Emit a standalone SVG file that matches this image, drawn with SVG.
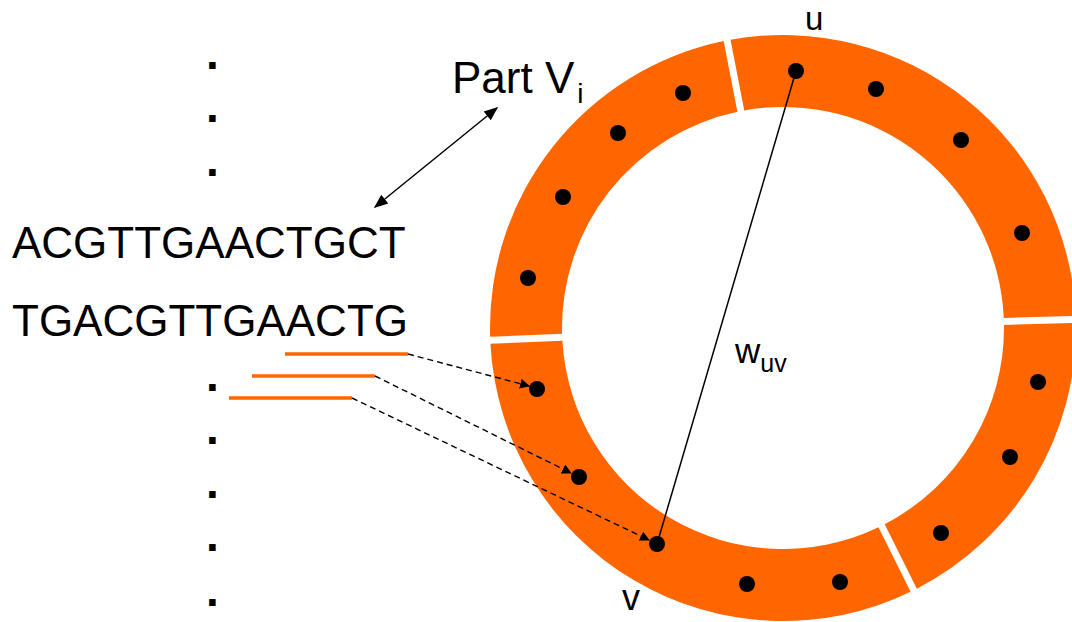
<svg xmlns="http://www.w3.org/2000/svg" width="1072" height="622" viewBox="0 0 1072 622">
<defs>
<style>
.t{font-family:"Liberation Sans",Arial,sans-serif;fill:#000}
.seq{font-size:44px}
.dot{font-size:46px;font-weight:bold}
.seg{fill:#ff6600;stroke:none}
.pt{fill:#000}
.read{stroke:#ff6600;stroke-width:3.5;fill:none}
.dash{stroke:#000;stroke-width:1.4;stroke-dasharray:6 4;fill:none}
.solid{stroke:#000;stroke-width:1.5;fill:none}
</style>
<marker id="ah" viewBox="0 0 10 10" refX="9" refY="5" markerWidth="10" markerHeight="10" markerUnits="userSpaceOnUse" orient="auto-start-reverse">
<path d="M0,0 L10,5 L0,10 z" fill="#000"/>
</marker>
<marker id="ah2" viewBox="0 0 10 10" refX="9" refY="5" markerWidth="14" markerHeight="14" markerUnits="userSpaceOnUse" orient="auto-start-reverse">
<path d="M0,1 L10,5 L0,9 z" fill="#000"/>
</marker>
</defs>
<rect width="1072" height="622" fill="#fff"/>

<g id="ring">
<g id="segA">
<path class="seg" d="M490.13 336.77 A293 293 0 0 1 723.67 41.07 L737.40 111.76 A221 221 0 0 0 562.07 333.76 Z"/>
<circle class="pt" cx="683" cy="93" r="8"/>
<circle class="pt" cx="618" cy="133" r="8"/>
<circle class="pt" cx="563" cy="197" r="8"/>
<circle class="pt" cx="528" cy="278" r="8"/>
</g>
<g id="segB">
<path class="seg" d="M730.53 39.73 A293 293 0 0 1 1075.75 315.81 L1003.77 317.95 A221 221 0 0 0 744.27 110.42 Z"/>
<circle class="pt" cx="796" cy="71" r="8"/>
<circle class="pt" cx="876" cy="89" r="8"/>
<circle class="pt" cx="961" cy="140" r="8"/>
<circle class="pt" cx="1022" cy="233" r="8"/>
</g>
<g id="segC">
<path class="seg" d="M1075.95 322.80 A293 293 0 0 1 916.86 588.64 L884.73 524.19 A221 221 0 0 0 1003.98 324.94 Z"/>
<circle class="pt" cx="1038" cy="382" r="8"/>
<circle class="pt" cx="1010" cy="457" r="8"/>
<circle class="pt" cx="941" cy="533" r="8"/>
</g>
<g id="segD">
<path class="seg" d="M910.60 591.76 A293 293 0 0 1 490.42 343.76 L562.37 340.75 A221 221 0 0 0 878.47 527.32 Z"/>
<circle class="pt" cx="840" cy="582" r="8"/>
<circle class="pt" cx="747" cy="584" r="8"/>
<circle class="pt" cx="657" cy="544" r="8"/>
<circle class="pt" cx="579" cy="477" r="8"/>
<circle class="pt" cx="537" cy="389" r="8"/>
</g>
</g>

<g id="sequences">
<text class="t seq" x="12" y="258">ACGTTGAACTGCT</text>
<text class="t seq" x="12" y="336">TGACGTTGAACTG</text>
</g>

<g id="ellipsis">
<text class="t dot" x="206" y="69">.</text>
<text class="t dot" x="206" y="122">.</text>
<text class="t dot" x="206" y="176">.</text>
<text class="t dot" x="206" y="391">.</text>
<text class="t dot" x="206" y="444">.</text>
<text class="t dot" x="206" y="498">.</text>
<text class="t dot" x="206" y="551">.</text>
<text class="t dot" x="206" y="606">.</text>
</g>

<g id="reads">
<line class="read" x1="285" y1="354" x2="408" y2="354"/>
<line class="read" x1="252" y1="376" x2="375" y2="376"/>
<line class="read" x1="229" y1="398" x2="352" y2="398"/>
</g>

<g id="labels">
<text class="t seq" x="452" y="93">Part V<tspan font-size="28" dx="3" dy="10">i</tspan></text>
<text class="t" font-size="33" x="805" y="30">u</text>
<text class="t" font-size="36" x="622" y="610">v</text>
<text class="t" font-size="35" x="735" y="363">w<tspan font-size="25" dy="9">uv</tspan></text>
</g>

<g id="connectors">
<line class="solid" x1="796" y1="71" x2="657" y2="544"/>
<line class="solid" x1="497" y1="108" x2="375" y2="207" marker-start="url(#ah2)" marker-end="url(#ah2)"/>
<line class="dash" x1="408" y1="354" x2="529" y2="386" marker-end="url(#ah)"/>
<line class="dash" x1="375" y1="376" x2="571" y2="473" marker-end="url(#ah)"/>
<line class="dash" x1="352" y1="398" x2="649" y2="540" marker-end="url(#ah)"/>
</g>
</svg>
